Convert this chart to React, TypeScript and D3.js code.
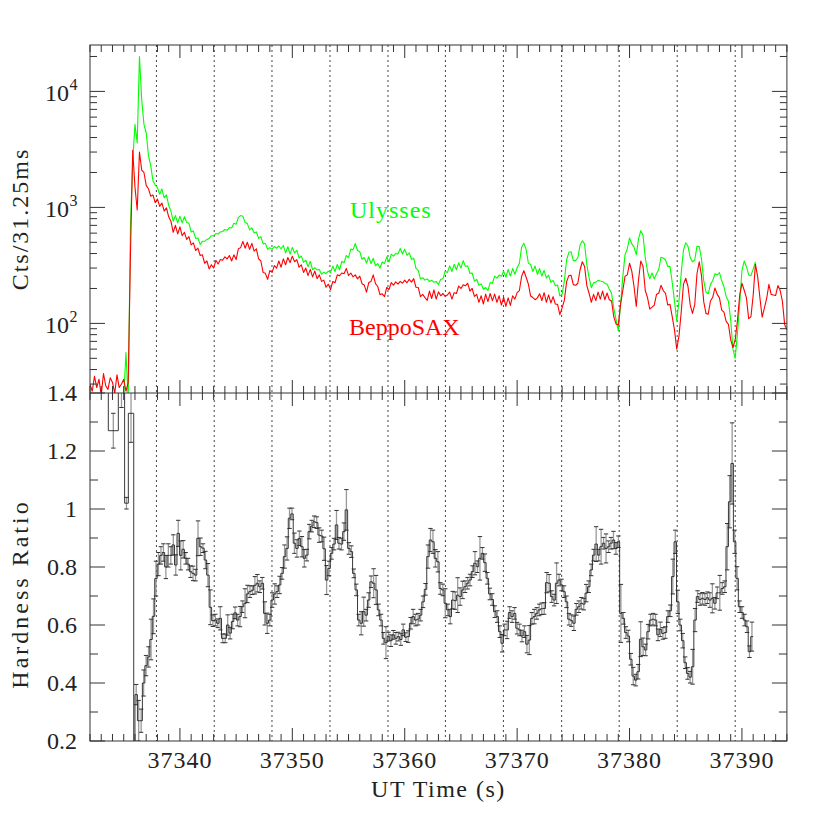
import React from "react";
import * as d3 from "d3";

// ---------- Light curves (counts per 31.25 ms), sampled every LC_DT seconds from LC_T0 ----------
const LC_T0 = 37332;
const LC_DT = 0.2;

const ulyssesCounts = [
  18, 20, 17, 21, 19, 16, 20, 18, 22, 19, 17, 21, 18, 20, 19, 23,
  56, 22,
  700, 2500, 5200, 3600, 20000, 8500, 5200, 4400, 2800, 2300, 1700, 1560,
  1480, 1300, 1440, 1210, 1280, 1040, 930, 760, 850, 735,
  840, 735, 830, 745, 730, 615, 625, 540, 545, 480,
  510, 510, 530, 540, 570, 570, 595, 590, 615, 620,
  645, 635, 670, 665, 730, 715, 820, 850, 840, 740,
  725, 640, 665, 600, 615, 540, 560, 485, 490, 435,
  450, 435, 460, 445, 465, 440, 470, 405, 458, 395,
  452, 405, 427, 366, 380, 337, 350, 308, 343, 290,
  302, 289, 292, 265, 277, 268, 282, 275, 312, 280,
  322, 290, 343, 333, 385, 368, 437, 430, 488, 425,
  415, 357, 370, 332, 375, 328, 364, 314, 328, 300,
  338, 328, 375, 338, 395, 380, 400, 396, 442, 396,
  437, 386, 405, 356, 365, 298, 286, 241, 248, 236,
  242, 230, 235, 226, 230, 216, 240, 242, 282, 275,
  313, 280, 323, 290, 333, 300, 348, 310, 313, 270,
  272, 231, 240, 213, 219, 197, 204, 192, 225, 222,
  256, 246, 261, 255, 282, 250, 292, 256, 297, 265,
  302, 330, 455, 490, 435, 330, 322, 280, 312, 265,
  297, 256, 287, 246, 261, 226, 235, 211, 214, 173,
  178, 232, 352, 410, 415, 348, 348, 368, 475, 515,
  485, 320, 248, 203, 224, 227, 235, 232, 230, 221,
  218, 198, 182, 135, 108, 86, 146, 252, 392, 440,
  545, 485, 455, 392, 535, 630, 575, 370, 280, 242,
  272, 242, 268, 292, 372, 366, 352, 310, 310, 224,
  155, 105, 156, 275, 430, 495, 462, 370, 340, 352,
  462, 460, 360, 234, 186, 180, 217, 233, 268, 262,
  274, 233, 207, 170, 155, 107, 60, 50, 82, 148,
  286, 345, 308, 262, 258, 294, 340,
];

const beppoCounts = [
  30, 26, 35, 28, 33, 24, 37, 29, 27, 34, 31, 25, 36, 28, 30, 33, 26, 31,
  400, 3100, 1500, 950, 3000, 2100, 2000, 1550, 1450, 1250, 1280, 1100,
  1180, 1020, 1090, 930, 990, 830, 760, 610, 700, 590,
  680, 570, 610, 530, 560, 475, 495, 425, 445, 385,
  390, 330, 345, 295, 320, 300, 350, 325, 355, 350,
  375, 360, 385, 345, 390, 355, 440, 450, 510, 445,
  500, 435, 490, 420, 440, 360, 345, 275, 270, 240,
  285, 275, 315, 300, 345, 305, 360, 320, 370, 335,
  380, 340, 355, 305, 320, 275, 300, 258, 292, 252,
  283, 243, 262, 230, 236, 205, 218, 196, 230, 224,
  262, 258, 272, 268, 298, 258, 272, 252, 262, 242,
  256, 220, 214, 186, 225, 230, 262, 220, 208, 177,
  180, 170, 204, 196, 225, 214, 228, 218, 230, 222,
  236, 224, 240, 227, 243, 205, 204, 170, 178, 167,
  158, 190, 164, 195, 162, 187, 173, 181, 171, 176,
  186, 162, 184, 181, 210, 200, 215, 211, 222, 190,
  200, 171, 178, 152, 173, 147, 179, 154, 181, 157,
  179, 152, 173, 144, 168, 140, 166, 143, 173, 162,
  184, 192, 255, 285, 250, 218, 172, 167, 160, 166,
  180, 157, 184, 152, 176, 150, 170, 147, 146, 119,
  136, 158, 228, 258, 260, 216, 213, 222, 290, 340,
  310, 212, 182, 152, 178, 157, 186, 162, 190, 160,
  183, 160, 156, 114, 99, 97, 146, 192, 255, 262,
  330, 282, 208, 140, 238, 345, 310, 192, 167, 133,
  138, 144, 178, 182, 213, 192, 182, 144, 146, 114,
  88, 60, 78, 126, 218, 245, 208, 144, 122, 145,
  268, 340, 258, 154, 122, 120, 156, 168, 202, 178,
  166, 130, 125, 104, 98, 72, 62, 72, 106, 175,
  222, 193, 166, 110, 114, 175, 325, 252, 166, 113,
  136, 164, 217, 178, 176, 174, 212, 193, 155, 98, 88,
];

// ---------- Hardness ratio ----------
// pre-burst (wide) bins
const preStart = [37332.8, 37333.63, 37334.52, 37335.08, 37335.41, 37335.89];
const preEnd = [37333.63, 37334.52, 37335.08, 37335.41, 37335.89, 37336.0];
const preValues = [1.6, 1.27, 1.45, 1.02, 1.33, 0.1];
const preErrors = [0.1, 0.06, 0.1, 0.02, 0.1, 0.05];

// burst bins, width HR_BIN starting at HR_T0
const HR_T0 = 37336.0;
const HR_BIN = 0.22;
const hrValues = [
  0.36, 0.27, 0.27, 0.40, 0.46, 0.49, 0.55, 0.63, 0.76, 0.81,
  0.84, 0.85, 0.80, 0.84, 0.84, 0.876, 0.807, 0.916, 0.84, 0.861,
  0.83, 0.81, 0.784, 0.778, 0.772, 0.899, 0.87, 0.865, 0.824, 0.772,
  0.661, 0.615, 0.617, 0.606, 0.623, 0.554, 0.554, 0.60, 0.572, 0.612,
  0.642, 0.617, 0.629, 0.663, 0.675, 0.707, 0.715, 0.72, 0.737, 0.744,
  0.732, 0.744, 0.64, 0.606, 0.617,
  0.686, 0.707, 0.715, 0.738, 0.778, 0.836, 0.864, 0.968, 0.983, 0.882,
  0.864, 0.899, 0.87, 0.83, 0.841, 0.922, 0.941, 0.956, 0.953, 0.91,
  0.907, 0.863, 0.755, 0.795, 0.847, 0.879, 0.945, 0.882, 0.879, 0.922,
  0.997, 0.864, 0.853, 0.778, 0.721, 0.617, 0.606, 0.646, 0.634, 0.686,
  0.749, 0.744, 0.721, 0.652, 0.617, 0.554, 0.539, 0.56, 0.546, 0.566,
  0.554, 0.56, 0.55, 0.583, 0.558, 0.56, 0.606, 0.629, 0.617, 0.62,
  0.634, 0.68, 0.723, 0.836, 0.893, 0.887, 0.83, 0.818, 0.726, 0.721,
  0.675, 0.652, 0.629, 0.686, 0.684, 0.703, 0.698, 0.721, 0.732, 0.744,
  0.755, 0.784, 0.813, 0.801, 0.83, 0.847, 0.815, 0.761, 0.707, 0.688,
  0.646, 0.629, 0.577, 0.537, 0.583, 0.583, 0.643, 0.629, 0.64, 0.589,
  0.583, 0.562, 0.577, 0.534, 0.548, 0.623, 0.629, 0.64, 0.652, 0.656,
  0.657, 0.746, 0.744, 0.698, 0.686, 0.744, 0.755, 0.738, 0.715, 0.68,
  0.62, 0.615, 0.606, 0.654, 0.663, 0.675, 0.672, 0.71, 0.732, 0.79,
  0.841, 0.879, 0.841, 0.87, 0.882, 0.864, 0.87, 0.882, 0.893, 0.864,
  0.887, 0.64, 0.623, 0.574, 0.562, 0.482, 0.424, 0.41, 0.439, 0.551,
  0.525, 0.514, 0.577, 0.617, 0.62, 0.617, 0.566, 0.585, 0.571, 0.574,
  0.629, 0.649, 0.767, 0.887, 0.68, 0.60, 0.546, 0.47, 0.433, 0.42,
  0.456, 0.617, 0.698, 0.688, 0.692, 0.688, 0.694, 0.686, 0.692, 0.675,
  0.711, 0.711, 0.726, 0.732, 0.87, 1.025, 1.157, 0.887, 0.761, 0.663,
  0.643, 0.617, 0.594, 0.508, 0.56,
];
const hrErrors = [
  0.035, 0.07, 0.04, 0.045, 0.035, 0.035, 0.07, 0.06, 0.06, 0.04,
  0.03, 0.03, 0.04, 0.04, 0.03, 0.035, 0.035, 0.045, 0.05, 0.03,
  0.02, 0.02, 0.02, 0.025, 0.02, 0.06, 0.03, 0.015, 0.03, 0.04,
  0.06, 0.02, 0.02, 0.015, 0.04, 0.015, 0.015, 0.035, 0.02, 0.025,
  0.02, 0.02, 0.035, 0.02, 0.05, 0.03, 0.02, 0.015, 0.03, 0.03,
  0.02, 0.02, 0.04, 0.035, 0.02,
  0.025, 0.035, 0.02, 0.03, 0.02, 0.04, 0.04, 0.035, 0.02, 0.035,
  0.03, 0.025, 0.035, 0.03, 0.02, 0.025, 0.02, 0.02, 0.02, 0.025,
  0.02, 0.04, 0.05, 0.025, 0.02, 0.02, 0.05, 0.02, 0.02, 0.03,
  0.07, 0.02, 0.02, 0.015, 0.02, 0.02, 0.04, 0.05, 0.02, 0.025,
  0.02, 0.05, 0.05, 0.02, 0.02, 0.02, 0.055, 0.015, 0.02, 0.015,
  0.02, 0.015, 0.02, 0.02, 0.015, 0.02, 0.02, 0.025, 0.02, 0.02,
  0.02, 0.02, 0.02, 0.04, 0.04, 0.04, 0.03, 0.035, 0.02, 0.02,
  0.05, 0.02, 0.025, 0.03, 0.03, 0.06, 0.03, 0.03, 0.02, 0.02,
  0.02, 0.02, 0.04, 0.02, 0.075, 0.02, 0.03, 0.02, 0.02, 0.02,
  0.02, 0.02, 0.02, 0.03, 0.02, 0.03, 0.02, 0.02, 0.02, 0.02,
  0.02, 0.02, 0.02, 0.03, 0.05, 0.02, 0.025, 0.02, 0.02, 0.02,
  0.02, 0.035, 0.03, 0.02, 0.02, 0.07, 0.02, 0.02, 0.02, 0.02,
  0.02, 0.02, 0.025, 0.02, 0.02, 0.02, 0.02, 0.03, 0.02, 0.02,
  0.02, 0.06, 0.02, 0.06, 0.02, 0.05, 0.02, 0.02, 0.03, 0.02,
  0.02, 0.1, 0.02, 0.02, 0.02, 0.02, 0.03, 0.02, 0.025, 0.06,
  0.03, 0.02, 0.025, 0.02, 0.02, 0.02, 0.02, 0.025, 0.02, 0.02,
  0.02, 0.02, 0.06, 0.04, 0.04, 0.02, 0.025, 0.02, 0.02, 0.02,
  0.06, 0.04, 0.02, 0.02, 0.02, 0.02, 0.02, 0.025, 0.05, 0.02,
  0.02, 0.06, 0.02, 0.02, 0.08, 0.09, 0.14, 0.04, 0.04, 0.02,
  0.02, 0.02, 0.02, 0.02, 0.05,
];

// ---------- Axes ----------
const dottedTimes = [37337.91, 37343.05, 37348.19, 37353.35, 37358.51, 37363.62, 37368.78, 37373.96, 37379.08, 37384.24, 37389.4];
const xTickLabels = [37340, 37350, 37360, 37370, 37380, 37390];
const countDecades = [100, 1000, 10000];
const countExponents = ["2", "3", "4"];
const hrTickValues = [0.2, 0.4, 0.6, 0.8, 1.0, 1.2, 1.4];
const hrTickLabels = ["0.2", "0.4", "0.6", "0.8", "1", "1.2", "1.4"];

const LEFT = 90;
const RIGHT = 786.9;
const TOP = 45;
const MID = 393;
const BOTTOM = 741;
const FONT = "'Liberation Serif', 'DejaVu Serif', serif";
const INK = "#333";

export default function App() {
  const x = d3.scaleLinear().domain([37332, 37394]).range([LEFT, RIGHT]);
  const yC = d3.scaleLog().domain([Math.pow(10, 1.4), Math.pow(10, 4.4)]).range([MID, TOP]);
  const yH = d3.scaleLinear().domain([0.2, 1.4]).range([BOTTOM, MID]);

  const lc = d3
    .line<number>()
    .x((_, i) => x(LC_T0 + i * LC_DT))
    .y((d) => yC(d));
  const greenPath = lc(ulyssesCounts) || "";
  const redPath = lc(beppoCounts) || "";

  const bins = [
    ...preStart.map((s, i) => ({ t0: s, t1: preEnd[i], v: preValues[i], e: preErrors[i] })),
    ...hrValues.map((v, k) => ({ t0: HR_T0 + k * HR_BIN, t1: HR_T0 + (k + 1) * HR_BIN, v, e: hrErrors[k] })),
  ];
  const stepPts: [number, number][] = [];
  bins.forEach((b) => {
    stepPts.push([x(b.t0), yH(b.v)]);
    stepPts.push([x(b.t1), yH(b.v)]);
  });
  const stepPath = d3.line()(stepPts) || "";

  const xMinor = d3.range(37332, 37394.001, 1);
  const xMajor = xTickLabels;

  const logMinor: number[] = [];
  [10, 100, 1000, 10000].forEach((d) => {
    for (let m = 2; m <= 9; m++) {
      const v = d * m;
      if (v > yC.domain()[0] && v < yC.domain()[1]) logMinor.push(v);
    }
  });
  const hrMinor = d3.range(0.3, 1.35, 0.2);

  const ticks: JSX.Element[] = [];
  let key = 0;
  const seg = (x1: number, y1: number, x2: number, y2: number) =>
    ticks.push(<line key={key++} x1={x1} y1={y1} x2={x2} y2={y2} stroke={INK} strokeWidth={1} />);

  xMinor.forEach((t) => {
    const major = xMajor.includes(t);
    const len = major ? 13 : 7;
    const px = x(t);
    seg(px, TOP, px, TOP + len);
    seg(px, MID, px, MID - len);
    seg(px, MID, px, MID + len);
    seg(px, BOTTOM, px, BOTTOM - len);
  });
  countDecades.forEach((v) => {
    seg(LEFT, yC(v), LEFT + 15, yC(v));
    seg(RIGHT, yC(v), RIGHT - 15, yC(v));
  });
  logMinor.forEach((v) => {
    seg(LEFT, yC(v), LEFT + 7, yC(v));
    seg(RIGHT, yC(v), RIGHT - 7, yC(v));
  });
  hrTickValues.forEach((v) => {
    seg(LEFT, yH(v), LEFT + 15, yH(v));
    seg(RIGHT, yH(v), RIGHT - 15, yH(v));
  });
  hrMinor.forEach((v) => {
    seg(LEFT, yH(v), LEFT + 8, yH(v));
    seg(RIGHT, yH(v), RIGHT - 8, yH(v));
  });

  return (
    <svg
      width={830}
      height={830}
      style={{ position: "absolute", left: 0, top: 0, background: "#fff" }}
      fontFamily={FONT}
    >
      <defs>
        <clipPath id="clipTop">
          <rect x={LEFT} y={TOP} width={RIGHT - LEFT} height={MID - TOP} />
        </clipPath>
        <clipPath id="clipBot">
          <rect x={LEFT} y={MID} width={RIGHT - LEFT} height={BOTTOM - MID} />
        </clipPath>
      </defs>
      <rect x={0} y={0} width={830} height={830} fill="#fff" />

      {dottedTimes.map((t, i) => (
        <line
          key={"d" + i}
          x1={x(t)}
          x2={x(t)}
          y1={TOP}
          y2={BOTTOM}
          stroke="#444"
          strokeWidth={1}
          strokeDasharray="2,3"
        />
      ))}

      <g clipPath="url(#clipTop)">
        <path d={greenPath} fill="none" stroke="#00ff00" strokeWidth={1.1} strokeLinejoin="round" />
        <path d={redPath} fill="none" stroke="#ff0000" strokeWidth={1.1} strokeLinejoin="round" />
      </g>

      <g clipPath="url(#clipBot)">
        {bins.map((b, i) => {
          const cx = x((b.t0 + b.t1) / 2);
          const y1 = yH(b.v - b.e);
          const y2 = yH(b.v + b.e);
          return (
            <g key={"e" + i}>
              <line x1={cx} x2={cx} y1={y1} y2={y2} stroke="#999" strokeWidth={1.3} />
              <line x1={cx - 2.2} x2={cx + 2.2} y1={y1} y2={y1} stroke="#333" strokeWidth={1} />
              <line x1={cx - 2.2} x2={cx + 2.2} y1={y2} y2={y2} stroke="#333" strokeWidth={1} />
            </g>
          );
        })}
        <path d={stepPath} fill="none" stroke="#222" strokeWidth={0.9} />
      </g>

      <rect x={LEFT} y={TOP} width={RIGHT - LEFT} height={BOTTOM - TOP} fill="none" stroke={INK} strokeWidth={1} />
      <line x1={LEFT} x2={RIGHT} y1={MID} y2={MID} stroke={INK} strokeWidth={1} />
      {ticks}

      {xTickLabels.map((t) => (
        <text key={"xl" + t} x={x(t)} y={768} fontSize={24} textAnchor="middle" letterSpacing={1} fill="#222">
          {t}
        </text>
      ))}
      {countDecades.map((v, i) => (
        <g key={"cl" + v}>
          <text x={69} y={yC(v) + 10} fontSize={24} textAnchor="end" fill="#222">
            10
          </text>
          <text x={69.5} y={yC(v) - 1.5} fontSize={16} fill="#222">
            {countExponents[i]}
          </text>
        </g>
      ))}
      {hrTickValues.map((v, i) => (
        <text key={"hl" + i} x={77} y={yH(v) + 8} fontSize={24} textAnchor="end" fill="#222">
          {hrTickLabels[i]}
        </text>
      ))}

      <text
        transform={`translate(28,${(TOP + MID) / 2}) rotate(-90)`}
        fontSize={24}
        textAnchor="middle"
        letterSpacing={2}
        fill="#222"
      >
        Cts/31.25ms
      </text>
      <text
        transform={`translate(28,594) rotate(-90)`}
        fontSize={24}
        textAnchor="middle"
        letterSpacing={3}
        fill="#222"
      >
        Hardness Ratio
      </text>
      <text x={(LEFT + RIGHT) / 2} y={797} fontSize={24} textAnchor="middle" letterSpacing={1.5} fill="#222">
        UT Time (s)
      </text>

      <text x={350} y={218} fontSize={24} letterSpacing={1} fill="#00ff00">
        Ulysses
      </text>
      <text x={349} y={335} fontSize={24} fill="#ff0000">
        BeppoSAX
      </text>
    </svg>
  );
}
